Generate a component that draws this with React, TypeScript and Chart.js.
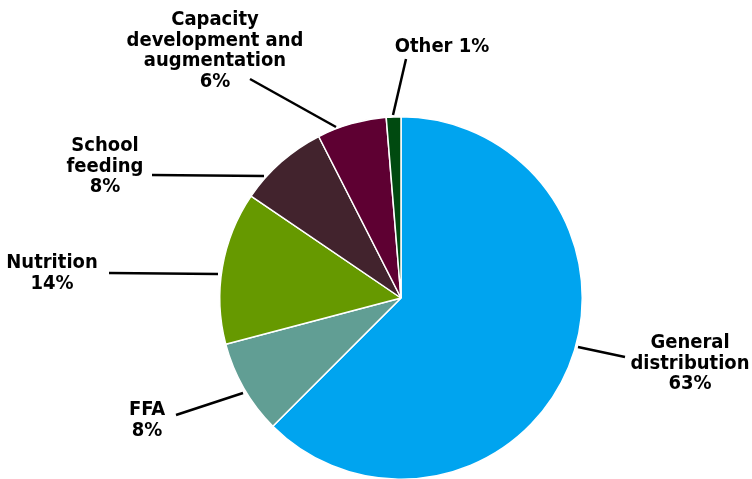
import React, { useEffect, useRef } from "react";
import { Chart, registerables } from "chart.js";

Chart.register(...registerables);

const categories = [
  "General distribution",
  "FFA",
  "Nutrition",
  "School feeding",
  "Capacity development and augmentation",
  "Other",
];
const shares = [62.5, 8.4, 13.6, 8.0, 6.2, 1.3];
const shareLabels = ["63%", "8%", "14%", "8%", "6%", "1%"];
const colors = ["#00A4EF", "#619E94", "#669900", "#42232D", "#5E0032", "#004A10"];

// label layout: text lines, center x, first baseline, leader line
const labelLines = [
  ["General", "distribution", "63%"],
  ["FFA", "8%"],
  ["Nutrition", "14%"],
  ["School", "feeding", "8%"],
  ["Capacity", "development and", "augmentation", "6%"],
  ["Other 1%"],
];
const labelPos = [
  { x: 690, y: 348, line: [578, 347, 625, 357] },
  { x: 147, y: 415, line: [176, 415, 243, 393] },
  { x: 52, y: 268, line: [109, 273, 218, 274] },
  { x: 105, y: 151, line: [152, 175, 264, 176] },
  { x: 215, y: 25, line: [250, 79, 336, 127] },
  { x: 442, y: 52, line: [406, 59, 393, 115] },
];

const labelPlugin = {
  id: "pieLabels",
  afterDraw(chart: any) {
    const ctx = chart.ctx;
    ctx.save();
    ctx.strokeStyle = "#000";
    ctx.lineWidth = 2.5;
    labelPos.forEach((p) => {
      const [x1, y1, x2, y2] = p.line;
      ctx.beginPath();
      ctx.moveTo(x1, y1);
      ctx.lineTo(x2, y2);
      ctx.stroke();
    });
    ctx.fillStyle = "#000";
    ctx.font = "bold 20px 'DejaVu Sans'";
    try {
      ctx.fontStretch = "condensed";
    } catch (e) {}
    ctx.textAlign = "center";
    ctx.textBaseline = "alphabetic";
    labelLines.forEach((lines, i) => {
      const p = labelPos[i];
      lines.forEach((t, j) => {
        ctx.fillText(t, p.x, p.y + j * 20.5);
      });
    });
    ctx.restore();
  },
};

export default function App() {
  const ref = useRef<HTMLCanvasElement>(null);
  useEffect(() => {
    if (!ref.current) return;
    const chart = new Chart(ref.current, {
      type: "pie",
      data: {
        labels: categories,
        datasets: [
          {
            data: shares,
            backgroundColor: colors,
            borderColor: "#ffffff",
            borderWidth: 1.5,
          },
        ],
      },
      options: {
        responsive: false,
        animation: false,
        layout: { padding: { left: 219, right: 169, top: 116, bottom: 20 } },
        plugins: {
          legend: { display: false },
          tooltip: { enabled: false },
          title: { display: false },
        },
      },
      plugins: [labelPlugin],
    });
    return () => chart.destroy();
  }, []);
  return (
    <div style={{ position: "absolute", left: 0, top: 0, width: 752, height: 500 }}>
      <canvas ref={ref} width={752} height={500} style={{ width: 752, height: 500 }} />
    </div>
  );
}
